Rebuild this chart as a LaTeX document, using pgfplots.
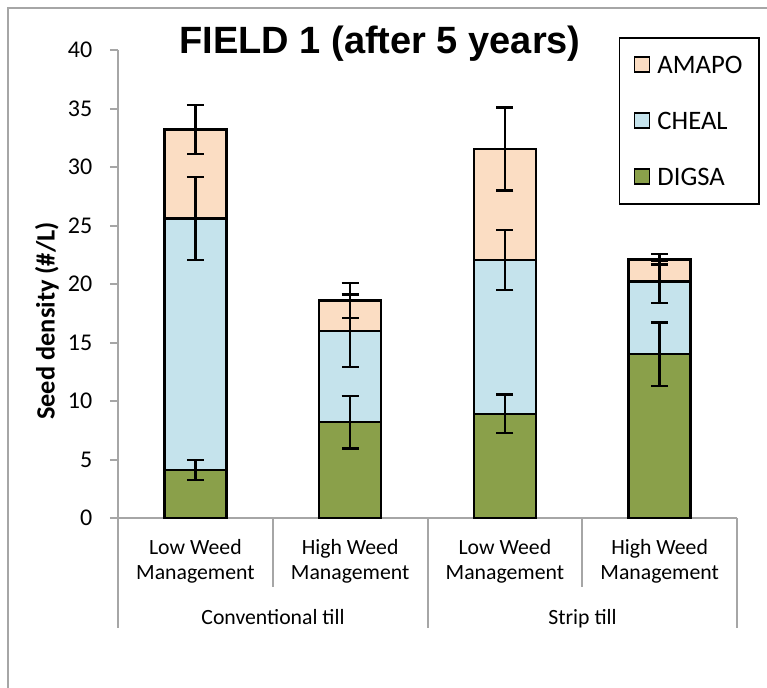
\documentclass[border=0pt]{standalone}
\usepackage{fontspec}
\setmainfont{Carlito}
\newfontfamily\titlefont{Liberation Sans}
\usepackage{pgfplots}
\usepackage{pgfplotstable}
\pgfplotsset{compat=1.18}
\definecolor{amapo}{HTML}{FBDDC3}
\definecolor{cheal}{HTML}{C5E3EC}
\definecolor{digsa}{HTML}{8AA04A}
\definecolor{axgray}{HTML}{A6A6A6}

\pgfplotstableread{
x D De C Ce A Ae
0 4.1 0.85 21.5 3.55 7.6 2.1
1 8.2 2.25 7.8 3.1 2.6 1.5
2 8.9 1.65 13.15 2.55 9.5 3.55
3 14.0 2.7 6.2 1.8 1.9 0.45
}\datatable

\pgfplotsset{errstyle/.style={draw=none, no markers,
   error bars/y dir=both, error bars/y explicit,
   error bars/error bar style={draw=black, line width=1.8pt},
   error bars/error mark options={draw=black, line width=1.8pt, mark size=6.4pt, rotate=90}}}

\begin{document}
\begin{tikzpicture}
\path[use as bounding box] (0,0) rectangle (575.25pt,-516pt);
\begin{axis}[
 at={(88.5pt,-388.5pt)}, anchor=south west,
 scale only axis, width=464.25pt, height=351pt,
 xmin=-0.5, xmax=3.5, ymin=0, ymax=40,
 ybar stacked, bar width=46.5pt,
 axis lines*=left,
 axis line style={axgray, line width=1.5pt},
 ytick={0,5,...,40},
 tick align=outside, major tick length=6pt,
 ytick style={axgray, line width=1.5pt},
 xtick={0,1,2,3}, xtick style={draw=none},
 xticklabels={{Low Weed\\Management},{High Weed\\Management},{Low Weed\\Management},{High Weed\\Management}},
 xticklabel style={align=center, font=\fontsize{16.3}{18.75}\selectfont, yshift=-6.75pt},
 yticklabel style={font=\fontsize{18}{20}\selectfont, xshift=-9.75pt},
 /pgf/number format/assume math mode=true,
 legend style={at={(0.809,1.028)}, anchor=north west, draw=black, line width=1.2pt, fill=white,
   font=\fontsize{20}{24}\selectfont, inner xsep=10.5pt, inner ysep=11.75pt, row sep=25pt,
   nodes={inner sep=2pt, text height=13pt, text depth=0pt},
   /tikz/every odd column/.append style={column sep=3.5pt}},
 legend cell align=left, reverse legend,
 legend image code/.code={\draw[#1, draw=black, line width=1.2pt] (0pt,-5.6pt) rectangle (11.2pt,5.6pt);},
]
\addplot[fill=digsa, draw=black, line width=1.8pt] table[x=x, y=D]{\datatable};
\addlegendentry{DIGSA}
\addplot[fill=cheal, draw=black, line width=1.8pt] table[x=x, y=C]{\datatable};
\addlegendentry{CHEAL}
\addplot[fill=amapo, draw=black, line width=1.8pt] table[x=x, y=A]{\datatable};
\addlegendentry{AMAPO}
\end{axis}
\begin{axis}[
 at={(88.5pt,-388.5pt)}, anchor=south west,
 scale only axis, width=464.25pt, height=351pt,
 xmin=-0.5, xmax=3.5, ymin=0, ymax=40, hide axis,
]
\addplot[errstyle] table[x=x, y=D, y error=De]{\datatable};
\addplot[errstyle] table[x=x, y expr=\thisrow{D}+\thisrow{C}, y error=Ce]{\datatable};
\addplot[errstyle] table[x=x, y expr=\thisrow{D}+\thisrow{C}+\thisrow{A}, y error=Ae]{\datatable};
\end{axis}
\begin{scope}[x=0.75pt, y=-0.75pt]
 \draw[axgray, line width=1.5pt] (8,688) -- (8,8) -- (767,8);
 \draw[axgray, line width=1.5pt] (273,518) -- (273,587) (582,518) -- (582,587)
   (118,518) -- (118,628) (428,518) -- (428,628) (737,518) -- (737,628);
 \node[font=\fontsize{16.3}{18.75}\selectfont, anchor=base] at (273,624) {Conventional till};
 \node[font=\fontsize{16.3}{18.75}\selectfont, anchor=base] at (582.5,624) {Strip till};
 \node[rotate=90, font=\bfseries\fontsize{19.8}{22}\selectfont] at (47,321) {Seed density (\#/L)};
 \node[font=\titlefont\bfseries\fontsize{28.5}{32}\selectfont, anchor=base] at (380,54) {FIELD 1 (after 5 years)};
\end{scope}
\end{tikzpicture}
\end{document}
